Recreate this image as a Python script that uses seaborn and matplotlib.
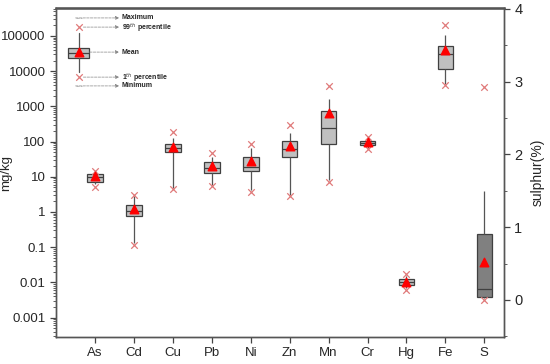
import numpy as np
import pandas as pd
import matplotlib
matplotlib.use("Agg")
import matplotlib.pyplot as plt
from matplotlib.ticker import MultipleLocator, LogLocator, NullFormatter
import seaborn as sns

# ---------------------------------------------------------------------------
# Data
# ---------------------------------------------------------------------------
categories = ["As", "Cd", "Cu", "Pb", "Ni", "Zn", "Mn", "Cr", "Hg", "Fe", "S"]
metals = categories[:-1]

# metals, mg/kg (left log axis)
whis_lo = [6.2, 0.13, 4.8, 5.8, 4.2, 3.0, 8, 67, 0.0068, 4270]
q1 = [7.2, 0.77, 49, 12.5, 14.2, 37, 85, 81, 0.0084, 11200]
median = [9.6, 1.06, 64, 18, 18.5, 60, 242, 92, 0.0102, 30000]
q3 = [11.9, 1.54, 83, 25.6, 35.6, 101, 735, 105, 0.0124, 52700]
whis_hi = [13.6, 2.8, 128, 37, 67, 178, 1645, 122, 0.0150, 106000]
means = [10.3, 1.23, 71, 20.5, 27.9, 74, 632, 99, 0.0100, 39700]
p1 = [5.2, 0.117, 4.6, 5.5, 3.75, 2.83, 7.2, 61, 0.0060, 4030]
p99 = [14.8, 3.1, 182, 48, 85, 294, 3780, 137, 0.0172, 204000]

# sulphur, % (right axis)
s_box = [0.03, 0.04, 0.15, 0.90, 1.49]   # whisker low, q1, median, q3, whisker high
s_mean = 0.52
s_p1 = 0.0
s_p99 = 2.92

# key box drawn in the upper-left corner
key_stats = dict(whislo=9300, q1=23400, med=32400, q3=44700, whishi=120000)
key_mean = 34700
key_p1, key_p99 = 6760, 178000
key_min, key_max = 3800, 324000
key_labels = ["Maximum", "99$^{th}$ percentile", "Mean", "1$^{th}$ percentile", "Minimum"]

BOX_FACE = "#c0c0c0"
S_FACE = "#808080"
EDGE = "#404040"
CROSS = "#e07a7a"

# long-form tables, one row per box statistic
stat_cols = [whis_lo, q1, median, q3, whis_hi]
metal_df = pd.DataFrame({
    "element": [m for m in metals for _ in stat_cols],
    "value": [col[i] for i in range(len(metals)) for col in stat_cols],
})
s_df = pd.DataFrame({"element": ["S"] * len(s_box), "value": s_box})

# ---------------------------------------------------------------------------
# Plot
# ---------------------------------------------------------------------------
sns.set_style("ticks")
plt.rcParams["font.family"] = ["Liberation Sans", "DejaVu Sans"]

fig = plt.figure(figsize=(5.5, 3.64), dpi=100)
ax = fig.add_axes([0.102, 0.074, 0.814, 0.904])

box_kw = dict(width=0.4, whis=(0, 100), linecolor=EDGE, linewidth=0.9,
              fliersize=0, saturation=1, showcaps=False,
              whiskerprops=dict(color="#555555", linewidth=0.9))

sns.boxplot(data=metal_df, x="element", y="value", order=categories,
            color=BOX_FACE, log_scale=True, ax=ax, **box_kw)

pos = np.arange(len(metals))
ax.scatter(pos, p99, marker="x", s=22, color=CROSS, linewidths=0.9, zorder=4)
ax.scatter(pos, p1, marker="x", s=22, color=CROSS, linewidths=0.9, zorder=4)
ax.scatter(pos, means, marker="^", s=38, color="red", zorder=5)

# key box
kx = -0.42
ax.bxp([dict(key_stats, fliers=[])], positions=[kx], widths=0.54,
       patch_artist=True, showcaps=False, showfliers=False, manage_ticks=False,
       boxprops=dict(facecolor=BOX_FACE, edgecolor=EDGE, linewidth=0.9),
       medianprops=dict(color=EDGE, linewidth=0.9),
       whiskerprops=dict(color="#555555", linewidth=0.9))
ax.scatter([kx, kx], [key_p99, key_p1], marker="x", s=22, color=CROSS,
           linewidths=0.9, zorder=4)
ax.scatter([kx], [key_mean], marker="^", s=38, color="red", zorder=5)
ax.hlines([key_max, key_min], kx - 0.08, kx + 0.08, colors="#bbbbbb",
          linestyles="--", linewidth=0.6)

key_y = [key_max, key_p99, key_mean, key_p1, key_min]
key_start = [kx - 0.08, kx + 0.12, kx + 0.28, kx + 0.12, kx - 0.08]
for y, x0, lab in zip(key_y, key_start, key_labels):
    ax.annotate("", xy=(0.62, y), xytext=(x0, y),
                arrowprops=dict(arrowstyle="-|>", linestyle="--", color="#888888",
                                lw=0.5, mutation_scale=5, shrinkA=0, shrinkB=0))
    ax.text(0.68, y, lab, va="center", ha="left", fontsize=5, fontweight="bold")

# sulphur on secondary axis
ax2 = ax.twinx()
sns.boxplot(data=s_df, x="element", y="value", order=categories,
            color=S_FACE, ax=ax2, **box_kw)
s_pos = categories.index("S")
ax2.scatter([s_pos, s_pos], [s_p99, s_p1], marker="x", s=22, color=CROSS,
            linewidths=0.9, zorder=4)
ax2.scatter([s_pos], [s_mean], marker="^", s=38, color="red", zorder=5)

# axes cosmetics
ax.set_xticks(np.arange(len(categories)))
ax.set_xticklabels(categories)
ax.set_xlim(-1.0, 10.5)

ax.yaxis.set_minor_locator(LogLocator(base=10, subs=np.arange(2, 10), numticks=20))
ax.yaxis.set_minor_formatter(NullFormatter())
ax.set_yticks([1e-3, 1e-2, 1e-1, 1, 10, 100, 1e3, 1e4, 1e5])
ax.set_yticklabels(["0.001", "0.01", "0.1", "1", "10", "100", "1000", "10000", "100000"])
ax.set_ylim(2.8e-4, 6.2e5)

ax2.set_yticks([0, 1, 2, 3, 4])
ax2.yaxis.set_minor_locator(MultipleLocator(0.5))
ax2.set_ylim(-0.51, 4.01)

ax.set_xlabel("")
ax.set_ylabel("mg/kg", fontsize=9.5)
ax.yaxis.set_label_coords(-0.098, 0.5)
ax2.set_ylabel("sulphur(%)", fontsize=10, labelpad=6)

ax.tick_params(axis="both", which="major", direction="out", length=4, width=0.9,
               labelsize=9.5, color="#444444")
ax.tick_params(axis="y", which="minor", direction="out", length=2.2, width=0.6,
               color="#444444")
ax2.tick_params(axis="y", which="major", direction="out", length=4, width=0.9,
                labelsize=10.5, color="#444444")
ax2.tick_params(axis="y", which="minor", direction="out", length=2.5, width=0.6,
                color="#444444")

for a in (ax, ax2):
    for side, sp in a.spines.items():
        sp.set_visible(True)
        sp.set_color("#555555")
        sp.set_linewidth(1.0)
ax2.spines["top"].set_linewidth(1.8)

fig.savefig("out.png", dpi=100)
